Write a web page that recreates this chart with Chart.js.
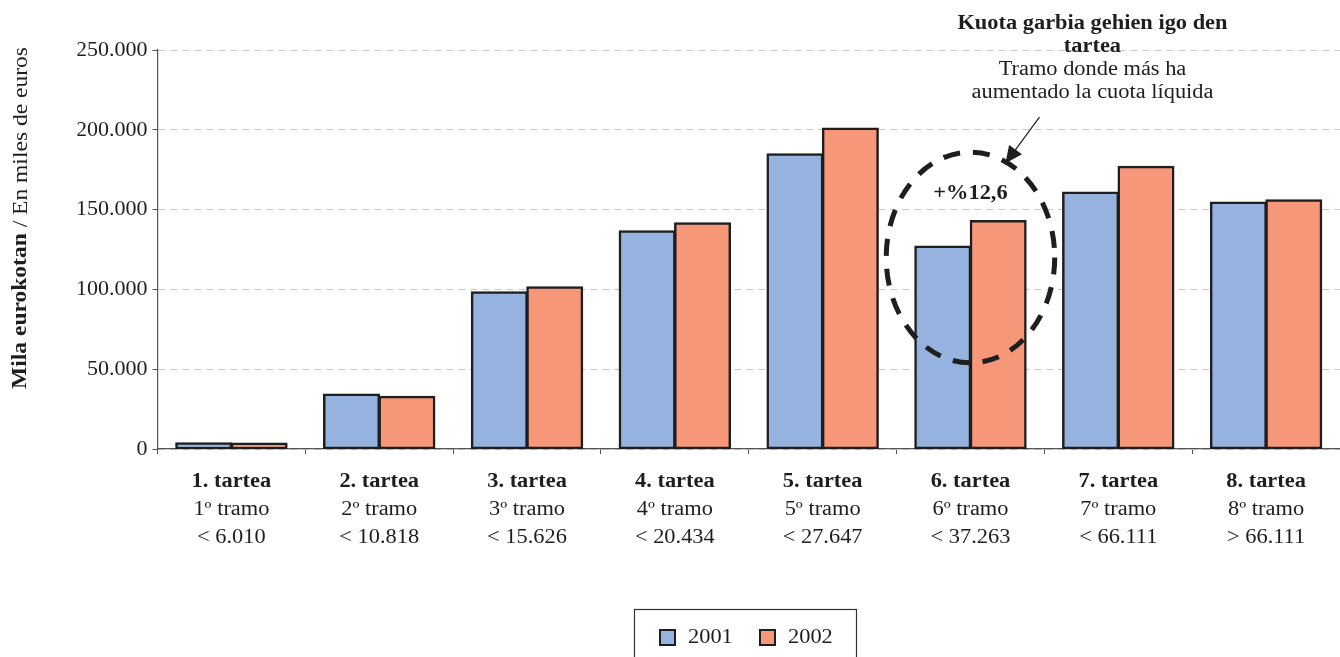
<!DOCTYPE html>
<html>
<head>
<meta charset="utf-8">
<script src="https://cdn.jsdelivr.net/npm/chart.js@4.4.1/dist/chart.umd.min.js"></script>
<style>
  html, body { margin: 0; padding: 0; background: #fff; }
  #wrap { width: 1340px; height: 657px; }
</style>
</head>
<body>
<div id="wrap"><canvas id="chart"></canvas></div>
<script>
// chart values
const tarteak = ['1. tartea', '2. tartea', '3. tartea', '4. tartea', '5. tartea', '6. tartea', '7. tartea', '8. tartea'];
const tramos = ['1º tramo', '2º tramo', '3º tramo', '4º tramo', '5º tramo', '6º tramo', '7º tramo', '8º tramo'];
const limits = ['< 6.010', '< 10.818', '< 15.626', '< 20.434', '< 27.647', '< 37.263', '< 66.111', '> 66.111'];
const years = ['2001', '2002'];
const values2001 = [3700, 34300, 98400, 136600, 184800, 127000, 160800, 154600];
const values2002 = [3600, 32800, 101500, 141600, 201000, 143000, 176900, 156000];
const yTicks = [0, 50000, 100000, 150000, 200000, 250000];

const annoTitle = ['Kuota garbia gehien igo den', 'tartea'];
const annoSub = ['Tramo donde más ha', 'aumentado la cuota líquida'];
const annoValue = '+%12,6';
const highlightIndex = 5;

const yTitleBold = 'Mila eurokotan';
const yTitleRest = ' / En miles de euros';

const colors = ['#95B3DE', '#F59778'];
const ink = '#1e1e1e';
const serif = '"Liberation Serif", "Times New Roman", serif';
const SX = 1.12; // the source text is a bit wider than plain Times

function fmt(v) {
  return String(v).replace(/\B(?=(\d{3})+(?!\d))/g, '.');
}

function wideText(ctx, str, x, y, align) {
  ctx.save();
  ctx.translate(x, y);
  ctx.scale(SX, 1);
  ctx.textAlign = align || 'center';
  ctx.fillText(str, 0, 0);
  ctx.restore();
}

const extras = {
  id: 'extras',
  afterDraw(chart) {
    const ctx = chart.ctx;
    const area = chart.chartArea;
    const x = chart.scales.x;
    const y = chart.scales.y;
    ctx.save();
    ctx.fillStyle = ink;
    ctx.textBaseline = 'middle';

    // category labels, three lines each
    tarteak.forEach(function(t, i) {
      const cx = x.getPixelForValue(i);
      ctx.font = 'bold 20px ' + serif;
      wideText(ctx, t, cx, area.bottom + 33);
      ctx.font = '20px ' + serif;
      wideText(ctx, tramos[i], cx, area.bottom + 61);
      wideText(ctx, limits[i], cx, area.bottom + 89);
    });

    // y axis title, bold part + regular part
    ctx.save();
    ctx.translate(21, 218);
    ctx.rotate(-Math.PI / 2);
    ctx.scale(SX, 1);
    ctx.font = 'bold 21px ' + serif;
    const w1 = ctx.measureText(yTitleBold).width;
    ctx.font = '21px ' + serif;
    const w2 = ctx.measureText(yTitleRest).width;
    ctx.textAlign = 'left';
    ctx.font = 'bold 21px ' + serif;
    ctx.fillText(yTitleBold, -(w1 + w2) / 2, 0);
    ctx.font = '21px ' + serif;
    ctx.fillText(yTitleRest, -(w1 + w2) / 2 + w1, 0);
    ctx.restore();

    // dashed ring around the highlighted category
    const catW = x.getPixelForValue(1) - x.getPixelForValue(0);
    const hx = x.getPixelForValue(highlightIndex);
    const ringTop = y.getPixelForValue(186000);
    const ringBot = y.getPixelForValue(54000);
    ctx.save();
    ctx.strokeStyle = ink;
    ctx.lineWidth = 5;
    ctx.setLineDash([17, 13]);
    ctx.beginPath();
    ctx.ellipse(hx, (ringTop + ringBot) / 2, catW * 0.57, (ringBot - ringTop) / 2, 0, 0, Math.PI * 2);
    ctx.stroke();
    ctx.restore();

    ctx.font = 'bold 20px ' + serif;
    wideText(ctx, annoValue, hx, y.getPixelForValue(160000));

    // arrow
    const ax0 = hx + 69, ay0 = y.getPixelForValue(208000);
    const ax1 = hx + 35, ay1 = y.getPixelForValue(179000);
    const dx = ax1 - ax0, dy = ay1 - ay0, len = Math.hypot(dx, dy);
    const ux = dx / len, uy = dy / len;
    ctx.strokeStyle = ink;
    ctx.lineWidth = 1.2;
    ctx.beginPath();
    ctx.moveTo(ax0, ay0);
    ctx.lineTo(ax1 - ux * 14, ay1 - uy * 14);
    ctx.stroke();
    ctx.beginPath();
    ctx.moveTo(ax1, ay1);
    ctx.lineTo(ax1 - ux * 17 - uy * 8, ay1 - uy * 17 + ux * 8);
    ctx.lineTo(ax1 - ux * 17 + uy * 8, ay1 - uy * 17 - ux * 8);
    ctx.closePath();
    ctx.fill();

    // annotation text
    const tx = hx + 122;
    ctx.font = 'bold 20px ' + serif;
    wideText(ctx, annoTitle[0], tx, area.top - 26);
    wideText(ctx, annoTitle[1], tx, area.top - 3);
    ctx.font = '20px ' + serif;
    wideText(ctx, annoSub[0], tx, area.top + 20);
    wideText(ctx, annoSub[1], tx, area.top + 43);

    // legend box
    ctx.strokeStyle = '#333';
    ctx.lineWidth = 1.2;
    ctx.strokeRect(634.5, 609.5, 222, 70);
    const swX = [660, 760];
    years.forEach(function(yr, i) {
      ctx.fillStyle = colors[i];
      ctx.fillRect(swX[i], 630, 15, 15);
      ctx.strokeStyle = ink;
      ctx.lineWidth = 2;
      ctx.strokeRect(swX[i], 630, 15, 15);
      ctx.fillStyle = ink;
      ctx.font = '20px ' + serif;
      wideText(ctx, yr, swX[i] + 28, 638, 'left');
    });

    ctx.restore();
  }
};

new Chart(document.getElementById('chart'), {
  type: 'bar',
  data: {
    labels: tarteak,
    datasets: [
      { label: years[0], data: values2001, backgroundColor: colors[0], borderColor: ink, borderWidth: 2.5, borderSkipped: false, inflateAmount: 0.8 },
      { label: years[1], data: values2002, backgroundColor: colors[1], borderColor: ink, borderWidth: 2.5, borderSkipped: false, inflateAmount: 0.8 }
    ]
  },
  options: {
    responsive: true,
    maintainAspectRatio: false,
    animation: false,
    layout: { padding: { left: 77.5, top: 50, right: 0, bottom: 203 } },
    datasets: { bar: { categoryPercentage: 0.75, barPercentage: 1 } },
    plugins: { legend: { display: false }, tooltip: { enabled: false } },
    scales: {
      x: {
        grid: { display: true, drawOnChartArea: false, drawTicks: true, tickLength: 5, color: '#555', offset: true },
        border: { display: true, color: '#555', width: 1.2 },
        ticks: { display: false },
        afterFit: function(s) { s.height = 5; }
      },
      y: {
        min: 0,
        max: 250000,
        afterBuildTicks: function(s) { s.ticks = yTicks.map(function(v) { return { value: v }; }); },
        ticks: {
          color: ink,
          padding: 5,
          font: { family: serif, size: 22 },
          callback: function(v) { return fmt(v); }
        },
        grid: { color: '#c8c8c8', tickLength: 5, tickColor: '#555', tickBorderDash: [] },
        border: { display: true, color: '#555', width: 1.2, dash: [7, 5] },
        afterFit: function(s) { s.width = 80; }
      }
    }
  },
  plugins: [extras]
});
</script>
</body>
</html>
